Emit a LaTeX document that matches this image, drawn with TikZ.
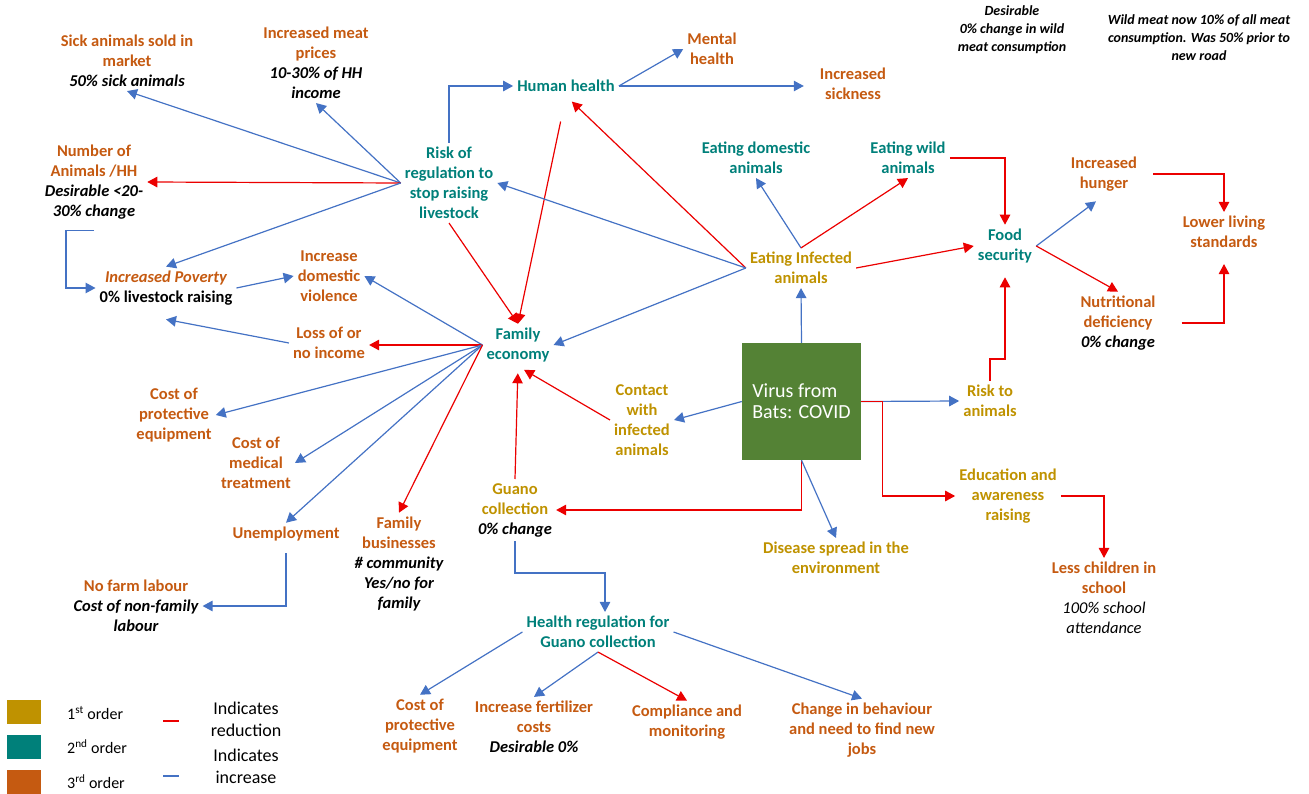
\documentclass[tikz,border=0pt]{standalone}
\usepackage{fontspec}
\setmainfont{Carlito}
\usetikzlibrary{arrows.meta}
\usetikzlibrary{calc}

\definecolor{firstord}{RGB}{191,146,0}
\definecolor{secondord}{RGB}{0,128,122}
\definecolor{thirdord}{RGB}{197,90,17}
\definecolor{incblue}{RGB}{68,114,196}
\definecolor{redred}{RGB}{235,0,0}
\definecolor{batgreen}{RGB}{84,130,53}

\newcommand{\blk}[1]{{\color{black}\itshape #1}}
\newcommand{\lgt}[1]{{\color{black}\mdseries\itshape #1}}

\tikzset{
  lbl/.style={align=center, inner sep=4pt, font=\fontsize{16.5}{20}\selectfont\bfseries},
  ordone/.style={lbl, text=firstord},
  ordtwo/.style={lbl, text=secondord},
  ordthree/.style={lbl, text=thirdord},
  topnote/.style={align=center, inner sep=2pt, font=\fontsize{14}{18}\selectfont\bfseries\itshape},
  virusbox/.style={fill=batgreen, text=white, align=left, inner sep=0pt,
    minimum width=119pt, minimum height=117pt, font=\fontsize{20}{21}\selectfont},
  legsq/.style={minimum width=34pt, minimum height=24pt, inner sep=0pt},
  legtxt/.style={inner sep=0pt, align=center, font=\fontsize{16}{20}\selectfont},
  incr/.style={draw=incblue, line width=1.2pt, -{Triangle[length=10pt,width=10.5pt]}},
  decr/.style={draw=redred, line width=1.2pt, -{Triangle[length=10pt,width=10.5pt]}},
}

\begin{document}
\begin{tikzpicture}[x=1pt,y=-1pt]
  \useasboundingbox (0,0) rectangle (1309,794);

  % upper left
  \node[ordthree] (sick) at (127,61) {Sick animals sold in\\market\\\blk{50\% sick animals}};
  \node[ordthree] (meat) at (316,63) {Increased meat\\prices\\\blk{10-30\% of HH}\\\blk{income}};
  \node[ordthree] (numanim) at (94,182) {Number of\\Animals /HH\\\blk{Desirable <20-}\\\blk{30\% change}};
  \node[ordtwo] (regrisk) at (449,183) {Risk of\\regulation to\\stop raising\\livestock};
  \node[ordthree] (poverty) at (166,288) {{\itshape Increased Poverty}\\{\color{black}0\% livestock raising}};
  \node[ordthree] (domviol) at (329,276) {Increase\\domestic\\violence};
  \node[ordthree] (income) at (329,343) {Loss of or\\no income};

  % upper middle
  \node[ordtwo] (human) at (566,86) {Human health};
  \node[ordthree] (mental) at (712,49) {Mental\\health};
  \node[ordthree] (sickness) at (853,84) {Increased\\sickness};
  \node[ordtwo] (eatdom) at (756,158) {Eating domestic\\animals};
  \node[ordtwo] (eatwild) at (908,158) {Eating wild\\animals};
  \node[ordone] (eatinf) at (801,268) {Eating Infected\\animals};

  % upper right
  \node[topnote] (desire) at (1012,30) {Desirable\\0\% change in wild\\meat consumption};
  \node[topnote] (wildnote) at (1199,38) {Wild meat now 10\% of all meat\\consumption. Was 50\% prior to\\new road};
  \node[ordtwo] (food) at (1005,246) {Food\\security};
  \node[ordthree] (hunger) at (1104,174) {Increased\\hunger};
  \node[ordthree] (lower) at (1224,232) {Lower living\\standards};
  \node[ordthree] (nutri) at (1118,323) {Nutritional\\deficiency\\\blk{0\% change}};

  % middle
  \node[ordtwo] (famecon) at (518,345) {Family\\economy};
  \node[ordthree] (protect) at (174,415) {Cost of\\protective\\equipment};
  \node[ordthree] (medical) at (256,463) {Cost of\\medical\\treatment};
  \node[ordthree] (unemp) at (286,534) {Unemployment};
  \node[ordthree] (fambus) at (399,564) {Family\\businesses\\\blk{\# community}\\\blk{Yes/no for}\\\blk{family}};
  \node[ordthree] (nofarm) at (136,606) {No farm labour\\\blk{Cost of non-family}\\\blk{labour}};
  \node[ordone] (contact) at (642,420) {Contact\\with\\infected\\animals};
  \node[virusbox] (virus) at (801.5,401.5) {Virus from\\Bats: COVID};
  \node[ordone] (riskanim) at (990,401) {Risk to\\animals};
  \node[ordone] (educ) at (1008,496) {Education and\\awareness\\raising};
  \node[ordthree] (school) at (1104,598) {Less children in\\school\\\lgt{100\% school}\\\lgt{attendance}};
  \node[ordone] (guano) at (515,510) {Guano\\collection\\\blk{0\% change}};
  \node[ordone] (disease) at (836,558) {Disease spread in the\\environment};

  % bottom
  \node[ordtwo] (healthreg) at (598,632) {Health regulation for\\Guano collection};
  \node[ordthree] (protect2) at (420,726) {Cost of\\protective\\equipment};
  \node[ordthree] (fert) at (534,727) {Increase fertilizer\\costs\\\blk{Desirable 0\%}};
  \node[ordthree] (comply) at (687,722) {Compliance and\\monitoring};
  \node[ordthree] (behave) at (862,730) {Change in behaviour\\and need to find new\\jobs};

  % legend
  \node[legsq, fill=firstord] (sqone) at (24,712) {};
  \node[legsq, fill=secondord] (sqtwo) at (24,747) {};
  \node[legsq, fill=thirdord] (sqthree) at (24,782) {};
  \node[legtxt, anchor=west] (ordtxtone) at (67,713) {1\textsuperscript{st} order};
  \node[legtxt, anchor=west] (ordtxttwo) at (67,747) {2\textsuperscript{nd} order};
  \node[legtxt, anchor=west] (ordtxtthree) at (67,782) {3\textsuperscript{rd} order};
  \draw[redred, line width=1.2pt] (163,721) -- (179,721); % red sample
  \draw[incblue, line width=1.2pt] (163,776) -- (179,776); % blue sample
  \node[legtxt, font=\fontsize{18}{22}\selectfont] (legred) at (246,719) {Indicates\\reduction};
  \node[legtxt, font=\fontsize{18}{22}\selectfont] (legblue) at (246,766) {Indicates\\increase};

  % from risk of regulation
  \draw[incr] (regrisk.west) -- (sick.south);
  \draw[incr] (regrisk.west) -- (meat.south);
  \draw[decr] (regrisk.west) -- (numanim.east);
  \draw[incr] (regrisk.west) -- (poverty.north);
  \draw[incr] (regrisk.north) |- (human.west);
  \draw[decr] (regrisk.south) -- (famecon.north);

  % from human health
  \draw[incr] (human.east) -- (mental.west);
  \draw[incr, shorten >=12pt] (human.east) -- (human.east -| sickness.west);
  \draw[decr, shorten <=26pt] (human.south) -- (famecon.north);

  % from eating infected animals
  \draw[decr, shorten >=8pt] (eatinf.west) -- (human.south);
  \draw[incr] (eatinf.west) -- (regrisk.east);
  \draw[incr] (eatinf.west) -- (famecon.east);
  \draw[incr] (eatinf.north) -- (eatdom.south);
  \draw[decr] (eatinf.north) -- (eatwild.south);
  \draw[decr] (eatinf.east) -- (food.west);
  \draw[decr] (eatwild.east) -| (food.north);

  % from food security
  \draw[incr, shorten >=10pt] (food.east) -- (hunger.south);
  \draw[decr] (food.east) -- (nutri.north);
  \draw[decr] ([xshift=12pt]hunger.east) -| (lower.north);
  \draw[decr, shorten >=12pt] ([xshift=22pt]nutri.east) -| (lower.south);

  % from the virus
  \draw[incr] (virus.north) -- (eatinf.south);
  \draw[incr] (virus.east) -- (riskanim.west);
  \draw[decr] (virus.east) -- ++(21,0) |- (educ.west);
  \draw[incr] (virus.west) -- (contact.east);
  \draw[decr] (virus.south) |- (guano.east);
  \draw[incr] (virus.south) -- (disease.north);
  \draw[decr, shorten >=10pt] (riskanim.north) -- ++(0,-22) -| (food.south);
  \draw[decr] (educ.east) -| (school.north);

  % into family economy and guano
  \draw[decr, shorten >=7pt] (contact.west) -- (famecon.south);
  \draw[decr, shorten >=7pt] (guano.north) -- (famecon.south);
  \draw[incr] (guano.south) -- ++(0,32) -| ([xshift=7pt]healthreg.north);

  % from health regulation
  \draw[incr] (healthreg.west) -- (protect2.north);
  \draw[incr] (healthreg.south) -- (fert.north);
  \draw[decr] (healthreg.south) -- (comply.north);
  \draw[incr] (healthreg.east) -- (behave.north);

  % from family economy
  \draw[incr] (famecon.west) -- (domviol.east);
  \draw[decr] (famecon.west) -- (famecon.west -| income.east);
  \draw[incr] (famecon.west) -- (protect.east);
  \draw[incr] (famecon.west) -- (medical.east);
  \draw[incr] (famecon.west) -- (unemp.north);
  \draw[decr] (famecon.west) -- (fambus.north);
  \draw[incr] (income.west) -- ([yshift=-10pt]poverty.south);
  \draw[incr] (poverty.east) -- (domviol.west);
  \draw[incr] ([yshift=-7pt]numanim.south) -- ++(-28,0) |- (poverty.west);
  \draw[incr, shorten <=8pt] (unemp.south) |- (nofarm.east);
\end{tikzpicture}
\end{document}
